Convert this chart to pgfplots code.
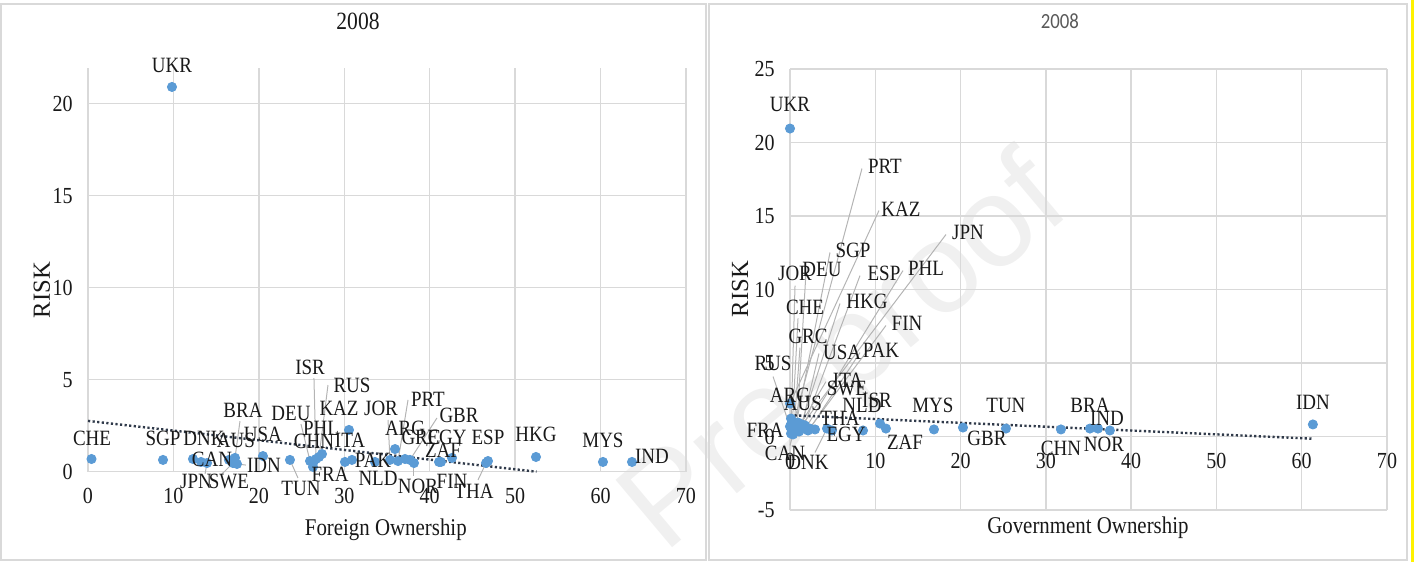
\documentclass[border=0pt]{standalone}
\usepackage{fontspec}
\setmainfont{Liberation Serif}[FakeStretch=0.87]
\newfontfamily\riskfont{Liberation Serif}
\newfontfamily\sanstitle{Carlito}[FakeStretch=0.87]
\newfontfamily\wmfont{Liberation Sans}
\usepackage{pgfplots}
\usepackage{pgfplotstable}
\pgfplotsset{compat=1.18}

\definecolor{ptblue}{HTML}{5B9BD5}
\definecolor{gridgray}{HTML}{D9D9D9}
\definecolor{leadgray}{HTML}{B4B4B4}
\definecolor{trendcol}{HTML}{303A4A}
\definecolor{titlegray}{HTML}{595959}

% RISK against foreign ownership: point (x,y) and label centre (lx,ly)
\pgfplotstableread{
name x y lx ly
UKR 9.83 20.91 9.83 22.10
CHE 0.41 0.69 0.47 1.83
SGP 8.78 0.64 8.78 1.83
DNK 12.29 0.69 13.58 1.83
CAN 13.23 0.53 14.51 0.69
JPN 13.93 0.47 12.64 -0.51
AUS 16.50 0.64 17.32 1.72
SWE 16.97 0.47 16.50 -0.51
BRA 17.21 0.75 18.14 3.35
IDN 17.44 0.42 20.60 0.36
USA 20.48 0.85 20.48 2.05
TUN 23.64 0.64 24.93 -0.89
DEU 25.99 0.58 23.76 3.19
CHN 26.34 0.47 26.45 1.67
FRA 26.34 0.26 28.33 -0.12
ISR 26.69 0.69 25.99 5.69
RUS 27.04 0.80 30.90 4.71
PHL 27.39 0.96 27.27 2.36
ITA 30.08 0.53 30.67 1.72
KAZ 30.55 2.27 29.38 3.46
PAK 30.90 0.64 33.36 0.64
NLD 33.59 0.53 33.95 -0.34
JOR 35.35 0.64 34.30 3.46
ARG 35.94 1.23 37.11 2.38
PRT 36.29 0.58 39.80 3.95
GRC 37.11 0.69 38.98 1.89
GBR 37.69 0.64 43.43 3.08
NOR 38.16 0.47 38.63 -0.78
ZAF 41.09 0.53 41.55 1.18
FIN 41.32 0.53 42.61 -0.51
EGY 42.61 0.75 42.02 1.89
THA 46.59 0.47 45.18 -1.04
ESP 46.82 0.58 46.82 1.89
HKG 52.44 0.80 52.44 2.05
MYS 60.28 0.53 60.28 1.72
IND 63.68 0.53 66.02 0.85
}\foreigndata

% leader lines: from label (sx,sy) to point (tx,ty)
\pgfplotstableread{
sx sy tx ty
13.70 -0.12 13.93 0.47
15.69 -0.12 16.97 0.47
17.79 2.75 17.21 0.75
18.49 0.36 17.44 0.42
24.58 -0.34 23.64 0.64
24.93 2.59 25.99 0.58
26.45 5.09 26.69 0.69
28.09 4.71 27.04 0.80
35.12 2.81 35.35 0.64
37.46 3.90 36.29 0.58
40.85 2.92 37.69 0.64
38.16 -0.23 38.16 0.47
45.65 -0.45 46.59 0.47
}\foreignlead

% RISK against government ownership
\pgfplotstableread{
name x y lx ly
UKR 0.00 20.95 0.00 22.59
KAZ 0.00 2.24 13.01 15.44
ARG 0.12 1.22 0.00 2.79
PRT 0.35 0.75 11.14 18.37
JPN 1.17 0.61 20.87 13.88
SGP 0.59 0.48 7.39 12.65
DEU 0.82 0.82 3.75 11.36
JOR 0.12 0.82 0.59 11.09
ESP 1.52 0.54 11.02 11.09
PHL 1.88 0.61 15.94 11.43
CHE 0.23 0.41 1.76 8.78
HKG 1.06 0.34 9.03 9.18
FIN 2.11 0.41 13.72 7.69
GRC 0.47 0.61 2.11 6.80
USA 1.41 0.82 6.10 5.71
PAK 2.34 0.54 10.67 5.85
RUS 0.00 0.68 -1.99 4.97
ITA 0.82 0.41 6.80 3.81
SWE 1.76 0.75 6.68 3.27
NLD 2.93 0.48 8.44 2.11
AUS 0.94 0.95 1.52 2.24
FRA 0.12 0.20 -2.93 0.41
CAN 0.35 0.14 -0.59 -1.16
DNK 4.34 0.54 2.11 -1.77
THA 4.92 0.41 5.86 1.22
EGY 8.56 0.41 6.57 0.14
ISR 10.55 0.88 10.20 2.45
ZAF 11.25 0.54 13.48 -0.41
MYS 16.88 0.48 16.76 2.11
GBR 20.28 0.61 23.09 -0.14
TUN 25.32 0.54 25.32 2.11
CHN 31.77 0.48 31.77 -0.82
BRA 35.17 0.54 35.17 2.11
IND 36.11 0.54 37.16 1.22
NOR 37.51 0.41 36.81 -0.54
IDN 61.31 0.82 61.31 2.31
}\govdata

\pgfplotstableread{
sx sy tx ty
8.44 18.23 0.35 0.75
10.43 15.37 0.00 2.24
18.29 13.74 1.17 0.61
4.69 12.52 0.59 0.48
1.88 11.22 0.82 0.82
0.59 10.27 0.12 0.82
8.21 10.95 1.52 0.54
13.25 11.29 1.88 0.61
0.94 8.03 0.23 0.41
5.86 9.05 1.06 0.34
11.25 7.55 2.11 0.41
1.17 6.05 0.47 0.61
3.40 5.65 1.41 0.82
8.21 5.71 2.34 0.54
-1.99 4.08 0.00 0.68
4.22 3.74 0.82 0.41
2.93 -1.09 4.34 0.54
0.00 -0.61 0.35 0.14
}\govlead

\pgfplotsset{
  riskchart/.style={
    scale only axis, clip=false,
    axis line style={draw=none},
    tick style={draw=none}, major tick length=0pt,
    grid=major, major grid style={gridgray, line width=0.7pt},
    xmin=0, xmax=70, xtick={0,10,...,70},
    /pgf/number format/assume math mode=true,
    tick label style={font=\fontsize{11.5}{13}\selectfont, text=black!90},
    yticklabel style={xshift=-4.15pt},
    xlabel style={font=\fontsize{12}{14}\selectfont, text=black!90, anchor=center},
    ylabel style={font=\riskfont\fontsize{12.3}{14}\selectfont, text=black!90, anchor=center},
  },
  pts/.style={only marks, mark=*, mark size=2.3pt, color=ptblue},
  trend/.style={trendcol, line width=1.2pt, dash pattern=on 1.1pt off 1.2pt, mark=none},
  leader/.style={leadgray, line width=0.5pt, mark=none,
    quiver={u=\thisrow{tx}-\thisrow{sx}, v=\thisrow{ty}-\thisrow{sy}}},
  ctry/.style={draw=none, mark=none, nodes near coords, point meta=explicit symbolic,
    nodes near coords align=center,
    every node near coord/.append style={anchor=center, inner sep=0pt,
      font=\fontsize{10.9}{12}\selectfont, text=black!90}},
}

\begin{document}
\begin{tikzpicture}
\useasboundingbox (0,0) rectangle (707.5pt,281pt);

% faint watermark behind both panels
\node[rotate=40, font=\wmfont\fontsize{64}{64}\selectfont, text=black!6, inner sep=0pt]
  at (424pt,102pt) {Pre-proof};

% panel frames
\draw[gridgray, line width=0.8pt] (0.6pt,1pt) rectangle (353pt,279pt);
\draw[gridgray, line width=0.8pt] (354.5pt,1pt) rectangle (703.5pt,279pt);
\draw[yellow, line width=1.5pt] (706.3pt,0pt) -- (706.3pt,281pt);

% left panel: foreign ownership
\begin{axis}[riskchart,
  at={(44pt,45.15pt)}, anchor=south west,
  width=299pt, height=201.85pt,
  ymin=0, ymax=21.94, ytick={0,5,...,20},
  xticklabel style={yshift=-4.9pt},
  title={2008},
  title style={at={(axis description cs:0.4515,1.0867)}, anchor=center,
    font=\fontsize{12.4}{14}\selectfont, text=black!90},
  xlabel={Foreign Ownership},
  xlabel style={at={(axis description cs:0.498,-0.144)}},
  ylabel={RISK},
  ylabel style={at={(axis description cs:-0.077,0.45)}},
]
\addplot[leader] table[x=sx, y=sy] {\foreignlead};
\addplot[pts] table[x=x, y=y] {\foreigndata};
\addplot[trend] coordinates {(0,2.76) (52.5,0)};
\addplot[ctry] table[x=lx, y=ly, meta=name] {\foreigndata};
\end{axis}

% right panel: government ownership
\begin{axis}[riskchart,
  at={(395pt,26pt)}, anchor=south west,
  width=298.5pt, height=220.5pt,
  ymin=-5, ymax=25, ytick={-5,0,...,25},
  xticklabel style={yshift=31.75pt},
  title={2008},
  title style={at={(axis description cs:0.452,1.0816)}, anchor=center,
    font=\sanstitle\fontsize{10.8}{12}\selectfont, text=titlegray},
  xlabel={Government Ownership},
  xlabel style={at={(axis description cs:0.499,-0.0408)}},
  ylabel={RISK},
  ylabel style={at={(axis description cs:-0.0838,0.501)}},
]
\addplot[leader] table[x=sx, y=sy] {\govlead};
\addplot[pts] table[x=x, y=y] {\govdata};
\addplot[trend] coordinates {(0,1.45) (61.3,-0.15)};
\addplot[ctry] table[x=lx, y=ly, meta=name] {\govdata};
\end{axis}
\end{tikzpicture}
\end{document}
